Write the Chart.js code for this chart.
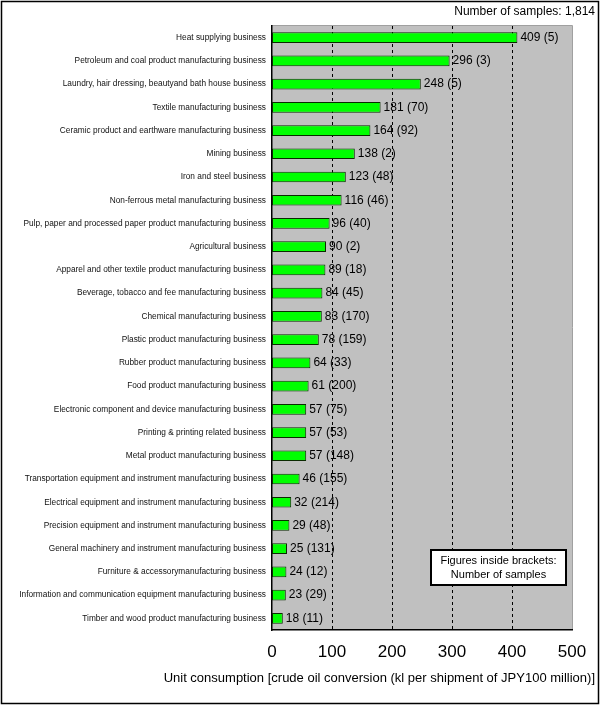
<!DOCTYPE html>
<html>
<head>
<meta charset="utf-8">
<script src="https://cdn.jsdelivr.net/npm/chart.js@4"></script>
<style>
  html, body { margin: 0; padding: 0; background: #fff; }
  #wrap { width: 600px; height: 705px; position: relative; }
</style>
</head>
<body>
<div id="wrap"><canvas id="unitchart"></canvas></div>
<script>
const industries = [
  "Heat supplying business",
  "Petroleum and coal product manufacturing business",
  "Laundry, hair dressing, beautyand bath house business",
  "Textile manufacturing business",
  "Ceramic product and earthware manufacturing business",
  "Mining business",
  "Iron and steel business",
  "Non-ferrous metal manufacturing business",
  "Pulp, paper and processed paper product manufacturing business",
  "Agricultural business",
  "Apparel and other textile product manufacturing business",
  "Beverage, tobacco and fee manufacturing business",
  "Chemical manufacturing business",
  "Plastic product manufacturing business",
  "Rubber product manufacturing business",
  "Food product manufacturing business",
  "Electronic component and device manufacturing business",
  "Printing & printing related business",
  "Metal product manufacturing business",
  "Transportation equipment and instrument manufacturing business",
  "Electrical equipment and instrument manufacturing business",
  "Precision equipment and instrument manufacturing business",
  "General machinery and instrument manufacturing business",
  "Furniture & accessorymanufacturing business",
  "Information and communication equipment manufacturing business",
  "Timber and wood product manufacturing business",
];
const unitConsumption = [409, 296, 248, 181, 164, 138, 123, 116, 96, 90, 89, 84, 83, 78, 64, 61, 57, 57, 57, 46, 32, 29, 25, 24, 23, 18];
const sampleCounts = [5, 3, 5, 70, 92, 2, 48, 46, 40, 2, 18, 45, 170, 159, 33, 200, 75, 53, 148, 155, 214, 48, 131, 12, 29, 11];
const xTicks = [0, 100, 200, 300, 400, 500];

const FONT = "'Liberation Sans', Arial, sans-serif";

// background, frame, labels and the note box
const decor = {
  id: "decor",
  beforeDraw(chart) {
    const { ctx, chartArea: a } = chart;
    ctx.save();
    ctx.fillStyle = "#fff";
    ctx.fillRect(0, 0, chart.width, chart.height);
    ctx.fillStyle = "#c0c0c0";
    ctx.fillRect(a.left, a.top, a.right - a.left, a.bottom - a.top);
    ctx.strokeStyle = "#a0a0a0";
    ctx.lineWidth = 1;
    ctx.beginPath();
    ctx.moveTo(a.right + 0.5, a.bottom);
    ctx.lineTo(a.right + 0.5, a.top - 0.5);
    ctx.lineTo(a.left, a.top - 0.5);
    ctx.stroke();
    ctx.restore();
  },
  afterDraw(chart) {
    const { ctx } = chart;
    ctx.save();
    // outer frame
    ctx.strokeStyle = "#000";
    ctx.lineWidth = 1.5;
    ctx.strokeRect(1.5, 1.5, chart.width - 3, chart.height - 3);

    // value labels
    ctx.fillStyle = "#000";
    ctx.font = "12px " + FONT;
    ctx.textBaseline = "middle";
    ctx.textAlign = "left";
    chart.getDatasetMeta(0).data.forEach((bar, i) => {
      ctx.fillText(unitConsumption[i] + " (" + sampleCounts[i] + ")", bar.x + 3, bar.y);
    });

    // top right note
    ctx.textAlign = "right";
    ctx.fillText("Number of samples: 1,814", 595, 12);

    // axis title
    ctx.font = "13px " + FONT;
    ctx.fillText("Unit consumption [crude oil conversion (kl per shipment of JPY100 million)]", 595, 678);

    // brackets note box
    const bx = 431, by = 550, bw = 135, bh = 35;
    ctx.fillStyle = "#fff";
    ctx.fillRect(bx, by, bw, bh);
    ctx.strokeStyle = "#000";
    ctx.lineWidth = 2;
    ctx.strokeRect(bx, by, bw, bh);
    ctx.fillStyle = "#000";
    ctx.font = "11px " + FONT;
    ctx.textAlign = "center";
    ctx.fillText("Figures inside brackets:", bx + bw / 2, by + 11);
    ctx.fillText("Number of samples", bx + bw / 2, by + 25);
    ctx.restore();
  },
};

const dashGrid = {
  id: "dashGrid",
  beforeDatasetsDraw(chart) {
    // dashed vertical lines at 100..400
    const { ctx, chartArea: a, scales } = chart;
    ctx.save();
    ctx.strokeStyle = "#000";
    ctx.lineWidth = 1;
    ctx.setLineDash([3, 3]);
    xTicks.slice(1, -1).forEach((v) => {
      const x = Math.round(scales.x.getPixelForValue(v)) + 0.5;
      ctx.beginPath();
      ctx.moveTo(x, a.top);
      ctx.lineTo(x, a.bottom);
      ctx.stroke();
    });
    ctx.restore();
  },
};

const configUnit = {
  type: "bar",
  data: {
    labels: industries,
    datasets: [
      {
        data: unitConsumption,
        backgroundColor: "#00ff00",
        borderColor: "#0a2a00",
        borderWidth: 1,
        borderSkipped: false,
        barPercentage: 0.46,
        categoryPercentage: 1,
      },
    ],
  },
  options: {
    indexAxis: "y",
    responsive: true,
    maintainAspectRatio: false,
    animation: false,
    layout: { padding: { top: 26, right: 28, left: 0, bottom: 0 } },
    plugins: {
      legend: { display: false },
      tooltip: { enabled: false },
    },
    scales: {
      x: {
        min: 0,
        max: 500,
        afterBuildTicks: (s) => { s.ticks = xTicks.map((v) => ({ value: v })); },
        afterFit: (s) => { s.height = 75; },
        ticks: {
          color: "#000",
          font: { family: FONT, size: 17 },
          padding: 12,
          maxRotation: 0,
        },
        grid: { display: false, drawTicks: false },
        border: { display: true, color: "#000", width: 1.5 },
      },
      y: {
        afterFit: (s) => { s.width = 272; },
        ticks: {
          color: "#111",
          font: { family: FONT, size: 8.3 },
          padding: 6,
          autoSkip: false,
        },
        grid: { display: false, drawTicks: false },
        border: { display: true, color: "#000", width: 1.5 },
      },
    },
  },
  plugins: [decor, dashGrid],
};

const unitChart = new Chart(document.getElementById("unitchart"), configUnit);
</script>
</body>
</html>
